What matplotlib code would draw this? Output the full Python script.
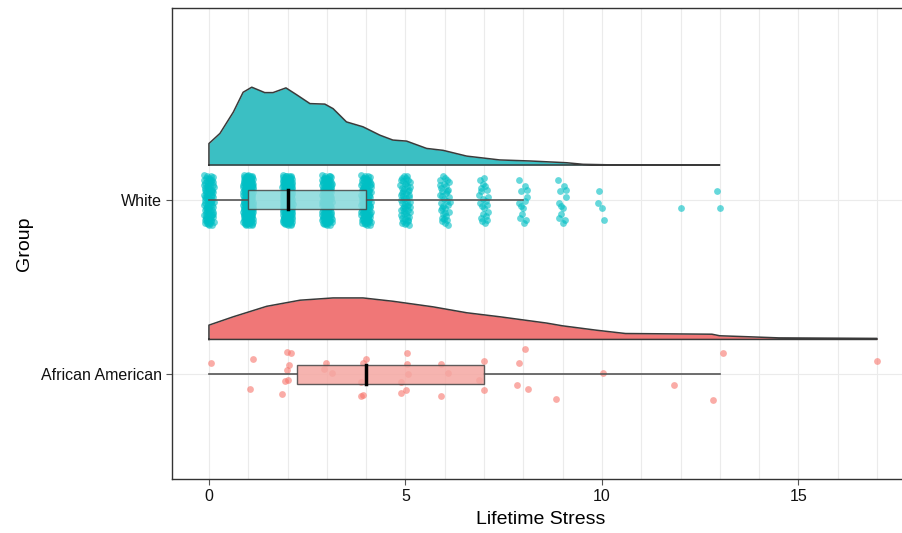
import numpy as np
import matplotlib.pyplot as plt
from matplotlib.ticker import MultipleLocator

plt.rcParams['font.family'] = ['Liberation Sans', 'DejaVu Sans']

groups = ['African American', 'White']
teal = '#00BFC4'
red = '#F8766D'

# half-violin outlines (x, height above the baseline, in y-units)
white_dens_x = [0, 0.28, 0.62, 0.87, 1.09, 1.42, 1.63, 1.96, 2.23, 2.57, 2.95, 3.16, 3.5,
                3.92, 4.35, 4.68, 5.03, 5.54, 5.96, 6.56, 7.4, 8.17, 9.1, 9.52, 10.2, 11, 12, 13]
white_dens_h = [0.123, 0.181, 0.303, 0.417, 0.446, 0.415, 0.415, 0.442, 0.403, 0.352, 0.349,
                0.323, 0.247, 0.219, 0.171, 0.143, 0.137, 0.095, 0.084, 0.051, 0.029, 0.023,
                0.013, 0.004, 0.001, 0.0005, 0.0002, 0]
aa_dens_x = [0, 0.62, 1.47, 2.32, 3.16, 3.92, 4.68, 5.7, 6.56, 7.4, 8.59, 9.0, 9.86, 10.6,
             12.8, 13.0, 13.77, 14.5, 17.0]
aa_dens_h = [0.082, 0.130, 0.190, 0.225, 0.238, 0.238, 0.219, 0.187, 0.153, 0.130, 0.094,
             0.078, 0.053, 0.034, 0.030, 0.021, 0.015, 0.009, 0.006]

# white group: number of people at each score
white_scores = [0, 1, 2, 3, 4, 5, 6, 7, 8, 9, 10, 12, 13]
white_counts = [90, 170, 160, 120, 100, 55, 35, 22, 13, 12, 4, 1, 2]

# african american group: points (x, vertical jitter)
aa_x = [0.05, 1.13, 1.04, 1.99, 2.10, 2.04, 1.99, 1.93, 2.0, 1.85, 2.98, 2.93, 3.13, 3.99,
        3.93, 3.88, 3.88, 3.93, 5.05, 5.03, 5.07, 4.88, 4.90, 5.01, 5.9, 6.09, 5.9, 7.0,
        6.88, 7.0, 8.04, 7.9, 7.83, 8.13, 8.83, 10.03, 11.83, 12.82, 13.09, 16.99]
aa_jit = [0.065, 0.086, -0.086, 0.127, 0.124, 0.051, 0.027, -0.038, -0.035, -0.114, 0.065,
          0.033, 0.010, 0.086, 0.065, -0.044, -0.126, -0.12, 0.122, 0.057, 0.0, -0.044,
          -0.107, -0.091, 0.061, 0.010, -0.126, 0.076, -0.030, -0.087, 0.147, 0.067, -0.063,
          -0.086, -0.143, 0.010, -0.063, -0.145, 0.124, 0.074]

# box stats: whislo, q1, med, q3, whishi
white_box = [0, 1, 2, 4, 8]
aa_box = [0, 2.25, 4, 7, 13]


def spread(n, base):
    # van der Corput sequence, used as even jitter inside each column
    out = []
    for i in range(1, n + 1):
        f, r, k = 1.0, 0.0, i
        while k > 0:
            f /= base
            r += f * (k % base)
            k //= base
        out.append(r)
    return np.array(out)


fig = plt.figure(figsize=(9.02, 5.33), dpi=100)
ax = fig.add_axes([172 / 902, 54 / 533, 738 / 902, 471 / 533])

ax.set_xlim(-0.94, 17.84)
ax.set_ylim(0.40, 3.10)

# densities
for pos, dx, dh, col in [(2, white_dens_x, white_dens_h, '#3BBFC3'),
                         (1, aa_dens_x, aa_dens_h, '#F07777')]:
    dx = np.array(dx)
    dh = np.array(dh)
    base = pos + 0.2
    ax.fill_between(dx, base, base + dh, color=col, lw=0, zorder=2)
    ax.plot(np.r_[dx[0], dx, dx[-1], dx[0]], np.r_[base, base + dh, base, base],
            color='#3a3a3a', lw=1.1, zorder=3)

# points
xs, ys = [], []
for s, c in zip(white_scores, white_counts):
    xs.append(s + (spread(c, 2) - 0.5) * 0.26)
    ys.append(2 + (spread(c, 3) - 0.5) * 0.29)
ax.scatter(np.concatenate(xs), np.concatenate(ys), s=24, color=teal, alpha=0.6,
           lw=0, zorder=4)
ax.scatter(aa_x, 1 + np.array(aa_jit), s=24, color=red, alpha=0.6, lw=0, zorder=4)

# boxes
hw = 0.055
for pos, st, fc in [(2, white_box, '#86D9DB'), (1, aa_box, '#F5A7A2')]:
    lo, q1, med, q3, hi = st
    ax.plot([lo, q1], [pos, pos], color='#555555', lw=1.2, zorder=5)
    ax.plot([q3, hi], [pos, pos], color='#555555', lw=1.2, zorder=5)
    ax.add_patch(plt.Rectangle((q1, pos - hw), q3 - q1, 2 * hw, facecolor=fc,
                               edgecolor='#444444', lw=1.0, alpha=0.85, zorder=5))
    ax.plot([med, med], [pos - hw, pos + hw], color='black', lw=2.5, zorder=6)

ax.set_xticks([0, 5, 10, 15])
ax.xaxis.set_minor_locator(MultipleLocator(1))
ax.set_yticks([1, 2])
ax.set_yticklabels(groups)
ax.grid(True, which='both', color='#EBEBEB', lw=0.8, zorder=0)
ax.set_axisbelow(True)
ax.tick_params(which='minor', length=0)
ax.tick_params(which='major', length=4, color='#555555', labelsize=11.5,
               labelcolor='#111111', pad=3)
for sp in ax.spines.values():
    sp.set_color('#333333')
    sp.set_linewidth(1.0)

ax.set_xlabel('Lifetime Stress', fontsize=14, labelpad=5)
ax.set_ylabel('Group', fontsize=14, labelpad=6)

fig.savefig('out.png', dpi=100)
